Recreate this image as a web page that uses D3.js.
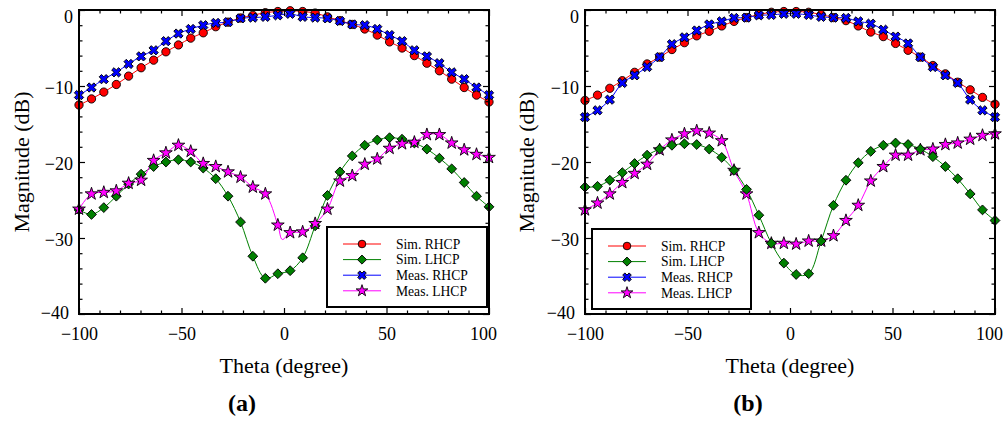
<!DOCTYPE html>
<html><head><meta charset="utf-8">
<script src="https://cdn.jsdelivr.net/npm/d3@7"></script>
<style>
body{margin:0;background:#fff}
svg{display:block}
text{font-family:"Liberation Serif","Times New Roman",serif;fill:#000}
</style>
</head><body>
<svg id="c" width="1006" height="422"></svg>
<script>
// ---------- data ----------
const theta = [-100,-93.9,-87.9,-81.8,-75.8,-69.7,-63.6,-57.6,-51.5,-45.5,-39.4,-33.3,-27.3,-21.2,-15.2,-9.1,-3.0,
               3.0,9.1,15.2,21.2,27.3,33.3,39.4,45.5,51.5,57.6,63.6,69.7,75.8,81.8,87.9,93.9,100];

// panel (a)
const simRhcpA  = [-12.5,-11.7,-10.8,-9.8,-8.7,-7.6,-6.6,-5.5,-4.6,-3.7,-3.0,-2.2,-1.6,-1.05,-0.7,-0.35,-0.2,
                   -0.1,-0.2,-0.4,-0.9,-1.4,-1.9,-2.5,-3.3,-4.2,-5.0,-6.0,-7.0,-8.0,-9.1,-10.2,-11.2,-12.1];
const simLhcpA  = [-26.3,-26.9,-26.0,-24.5,-22.9,-21.6,-20.6,-20.0,-19.7,-20.0,-20.8,-22.2,-24.5,-27.9,-32.4,-35.3,-34.7,
                   -34.3,-32.6,-28.4,-24.4,-21.3,-19.2,-17.8,-17.1,-16.8,-17.0,-17.5,-18.3,-19.5,-20.9,-22.7,-24.5,-25.9];
const measRhcpA = [-11.2,-10.2,-9.1,-8.2,-7.1,-6.1,-5.3,-4.1,-3.1,-2.5,-2.0,-1.7,-1.6,-1.1,-1.0,-0.9,-0.7,
                   -0.5,-0.9,-1.0,-1.1,-1.45,-1.9,-2.0,-2.5,-3.3,-4.1,-5.3,-6.1,-7.0,-8.2,-9.1,-10.2,-11.2];
const measLhcpA = [-26.2,-24.2,-24.0,-23.8,-22.8,-22.4,-19.8,-18.8,-17.8,-18.6,-20.2,-20.6,-21.3,-22.0,-23.3,-24.2,-28.3,
                   -29.3,-29.2,-28.1,-26.2,-22.5,-21.8,-20.3,-19.6,-18.2,-17.6,-17.4,-16.4,-16.4,-17.5,-18.4,-19.0,-19.4];
// extra (line-only) points of the measured LHCP trace in (a)
const measLhcpA_lineTheta = [-0.8];
const measLhcpA_lineValue = [-30.2];

// panel (b)
const simRhcpB  = [-11.9,-11.2,-10.3,-9.3,-8.2,-7.1,-6.2,-5.2,-4.3,-3.4,-2.8,-2.1,-1.5,-1.0,-0.6,-0.3,-0.2,
                   -0.2,-0.3,-0.6,-1.0,-1.4,-2.1,-2.9,-3.5,-4.4,-5.3,-6.2,-7.3,-8.4,-9.5,-10.5,-11.5,-12.4];
const simLhcpB  = [-23.3,-23.2,-22.4,-21.4,-20.2,-19.1,-18.3,-17.8,-17.6,-17.7,-18.3,-19.4,-21.1,-23.6,-27.0,-30.7,-33.3,
                   -34.8,-34.7,-30.4,-25.7,-22.4,-20.1,-18.6,-17.8,-17.5,-17.7,-18.3,-19.3,-20.6,-22.2,-24.2,-26.3,-27.7];
const measRhcpB = [-14.1,-13.2,-11.8,-9.6,-8.6,-7.5,-6.2,-4.5,-3.6,-2.7,-1.9,-1.5,-1.05,-1.0,-0.7,-0.65,-0.5,
                   -0.5,-0.65,-0.9,-1.0,-1.05,-1.5,-1.8,-2.6,-3.5,-4.4,-6.2,-7.5,-8.6,-9.6,-11.8,-13.2,-14.1];
const measLhcpB = [-26.3,-25.4,-24.2,-22.7,-21.5,-20.3,-18.4,-17.1,-16.3,-15.9,-16.2,-17.2,-21.1,-24.2,-29.3,-30.7,-30.7,
                   -30.8,-30.4,-30.4,-29.7,-27.7,-25.7,-22.5,-20.6,-19.1,-19.1,-18.4,-18.3,-17.7,-17.5,-17.0,-16.5,-16.3];

const seriesNames  = ["Sim. RHCP","Sim. LHCP","Meas. RHCP","Meas. LHCP"];
const seriesColors = ["#ff0000","#008000","#0000ff","#ff00ff"];
const xMajorTicks = [-100,-50,0,50,100];
const yMajorTicks = [-40,-30,-20,-10,0];
const xMinorTicks = [-90,-80,-70,-60,-40,-30,-20,-10,10,20,30,40,60,70,80,90];
const yMinorTicks = [-38,-36,-34,-32,-28,-26,-24,-22,-18,-16,-14,-12,-8,-6,-4,-2];
const panelLabels = ["(a)","(b)"];
const xTitle = "Theta (degree)";
const yTitle = "Magnitude (dB)";

// ---------- drawing ----------
const svg = d3.select("#c");
const PW = 410, PT = 10, PB = 314;

const symbols = [
  {type:d3.symbolCircle, size:54, rot:0},
  {type:d3.symbolSquare, size:48, rot:45},
  {type:d3.symbolCross,  size:54, rot:45},
  {type:d3.symbolStar,   size:50, rot:0}
];

const panels = [
  {x0:79,  data:[simRhcpA,simLhcpA,measRhcpA,measLhcpA], order:[0,1,2,3],
   extra:{3:{t:measLhcpA_lineTheta,v:measLhcpA_lineValue}},
   legend:{x:327,y:227,w:160,h:80}, label:panelLabels[0], ylabX:29},
  {x0:585, data:[simRhcpB,simLhcpB,measRhcpB,measLhcpB], order:[0,2,3,1],
   extra:{},
   legend:{x:592,y:229,w:159,h:80}, label:panelLabels[1], ylabX:534}
];

panels.forEach(p => {
  const g = svg.append("g");
  const x = d3.scaleLinear().domain([-100,100]).range([p.x0, p.x0+PW]);
  const y = d3.scaleLinear().domain([-40,0]).range([PB, PT]);

  // series lines + markers
  const plot = g.append("g");
  p.order.forEach(i => {
    const vals = p.data[i];
    let pts = theta.map((t,k)=>[t,vals[k]]);
    if (p.extra[i]) {
      p.extra[i].t.forEach((t,k)=>pts.push([t,p.extra[i].v[k]]));
      pts.sort((a,b)=>a[0]-b[0]);
    }
    const line = d3.line().x(d=>x(d[0])).y(d=>y(d[1])).curve(d3.curveCatmullRom.alpha(0.5));
    plot.append("path").attr("d",line(pts)).attr("fill","none")
      .attr("stroke",seriesColors[i]).attr("stroke-width",1);
  });
  p.order.forEach(i => {
    const vals = p.data[i];
    const s = symbols[i];
    const sym = d3.symbol().type(s.type).size(s.size);
    plot.append("g").selectAll("path").data(theta.map((t,k)=>[t,vals[k]])).join("path")
      .attr("d",sym)
      .attr("transform",d=>`translate(${x(d[0])},${y(d[1])}) rotate(${s.rot})`)
      .attr("fill",seriesColors[i]).attr("stroke","#000").attr("stroke-width",0.9);
  });

  // axes (ticks inward)
  const axB = d3.axisBottom(x).tickValues(xMajorTicks).tickSize(-6).tickPadding(12);
  const gB = g.append("g").attr("transform",`translate(0,${PB})`).call(axB);
  gB.select(".domain").remove();
  gB.selectAll("text").attr("font-size",18).attr("font-family","Liberation Serif").attr("dy","0.75em")
    .attr("dx",d=> d===100 ? -6 : 0);
  g.append("g").attr("transform",`translate(0,${PB})`)
    .call(d3.axisBottom(x).tickValues(xMinorTicks).tickSize(-3.5).tickFormat(""))
    .select(".domain").remove();
  g.append("g").attr("transform",`translate(0,${PT})`)
    .call(d3.axisTop(x).tickValues(xMajorTicks).tickSize(-6).tickFormat(""))
    .select(".domain").remove();
  g.append("g").attr("transform",`translate(0,${PT})`)
    .call(d3.axisTop(x).tickValues(xMinorTicks).tickSize(-3.5).tickFormat(""))
    .select(".domain").remove();

  const gL = g.append("g").attr("transform",`translate(${p.x0},0)`)
    .call(d3.axisLeft(y).tickValues(yMajorTicks).tickSize(-6).tickPadding(6));
  gL.select(".domain").remove();
  gL.selectAll("text").attr("font-size",18).attr("font-family","Liberation Serif")
    .attr("dy",d=> d===0 ? "0.72em" : (d===-40 ? "0.25em" : "0.4em"))
    .attr("dx",d=> d===-40 ? -4 : 0);
  g.append("g").attr("transform",`translate(${p.x0},0)`)
    .call(d3.axisLeft(y).tickValues(yMinorTicks).tickSize(-3.5).tickFormat(""))
    .select(".domain").remove();
  g.append("g").attr("transform",`translate(${p.x0+PW},0)`)
    .call(d3.axisRight(y).tickValues(yMajorTicks).tickSize(-6).tickFormat(""))
    .select(".domain").remove();
  g.append("g").attr("transform",`translate(${p.x0+PW},0)`)
    .call(d3.axisRight(y).tickValues(yMinorTicks).tickSize(-3.5).tickFormat(""))
    .select(".domain").remove();
  g.selectAll(".tick line").attr("stroke","#000").attr("stroke-width",1.2);

  // frame
  g.append("rect").attr("x",p.x0).attr("y",PT).attr("width",PW).attr("height",PB-PT)
    .attr("fill","none").attr("stroke","#000").attr("stroke-width",2);

  // legend
  const L = p.legend;
  const lg = g.append("g");
  lg.append("rect").attr("x",L.x).attr("y",L.y).attr("width",L.w).attr("height",L.h)
    .attr("fill","#fff").attr("stroke","#000").attr("stroke-width",2);
  seriesNames.forEach((nm,i) => {
    const ry = L.y + 17 + i*15.6;
    const lx1 = L.x + 16, lx2 = L.x + 54;
    lg.append("line").attr("x1",lx1).attr("x2",lx2).attr("y1",ry).attr("y2",ry)
      .attr("stroke",seriesColors[i]).attr("stroke-width",1);
    const s = symbols[i];
    lg.append("path").attr("d",d3.symbol().type(s.type).size(s.size*0.85)())
      .attr("transform",`translate(${(lx1+lx2)/2},${ry}) rotate(${s.rot})`)
      .attr("fill",seriesColors[i]).attr("stroke","#000").attr("stroke-width",0.9);
    lg.append("text").attr("x",L.x+69).attr("y",ry+4.8).attr("font-size",13.6).text(nm);
  });

  // titles
  const cx = p.x0 + PW/2;
  g.append("text").attr("x",cx).attr("y",373).attr("text-anchor","middle")
    .attr("font-size",22).text(xTitle);
  g.append("text").attr("transform",`translate(${p.ylabX},${(PT+PB)/2}) rotate(-90)`)
    .attr("text-anchor","middle").attr("font-size",22).text(yTitle);
  g.append("text").attr("x",cx-42).attr("y",411).attr("text-anchor","middle")
    .attr("font-size",24).attr("font-weight","bold").text(p.label);
});
</script>
</body></html>
